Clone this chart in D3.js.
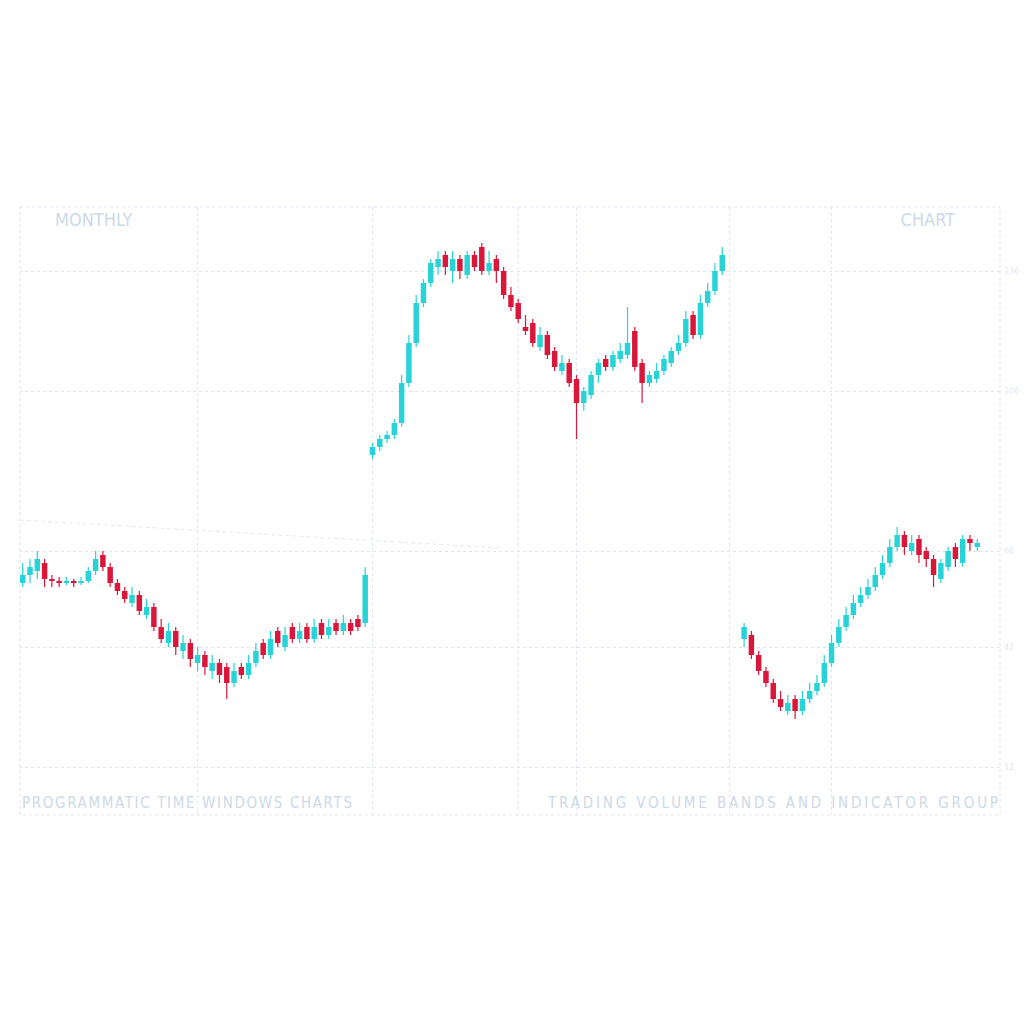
<!DOCTYPE html>
<html><head><meta charset="utf-8">
<script src="https://cdn.jsdelivr.net/npm/d3@7"></script>
<style>html,body{margin:0;padding:0;background:#fff;}svg{display:block;}</style>
</head><body>
<svg id="chart" width="1024" height="1024"></svg>
<script>
// ---- DATA ----
const titleLeft = "MONTHLY";
const titleRight = "CHART";
const footerLeft = "PROGRAMMATIC TIME WINDOWS CHARTS";
const footerRight = "TRADING VOLUME BANDS AND INDICATOR GROUP";
const totalSlots = 132;
const yTicks = [136, 106, 66, 42, 12];
const xGridSlots = [24, 48, 68, 76, 97, 111];
// segment start index + rows [open, high, low, close]
const seg1Start = 0;
const seg1 = [[58,63,57,60],[60,64,58,62],[61,66,59,64],[63,64,57,59],[59,60,57,58.5],[58.5,59.5,57,58],[58,59.5,57.5,58.5],[58.5,59,57,58],[58,59.5,57.5,58.5],[58.5,62,58,61],
[61,66,60,64],[65,66,61,62],[62,63,57,58],[58,59,55,56],[56,57,53,54],[53,57,52,55],[55,56,50,51],[50,54,49,52],[52,53,46,47],[47,49,43,44],
[43,48,42,46],[46,47,40,42],[41,45,39,43],[43,44,37,39],[38,42,36,40],[40,41,35,37],[36,40,34,38],[38,39,33,35],[37,38,29,33],[33,38,32,36],
[37,38,34,35],[35,40,34,38],[38,43,37,41],[43,44,39,40],[40,46,39,44],[46,47,42,43],[42,47,41,45],[47,48,43,44],[44,48,43,46],[47,48,43,44],
[44,49,43,47],[48,49,44,45],[45,49,44,47],[48,49,45,46],[46,50,45,48],[48,49,45,46],[49,50,46,47],[48,62,47,60]];
const seg2Start = 48;
const seg2 = [[90,93,89,92],[92,95,91,94],[94,96,93,95],[95,99,94,98],[98,110,97,108],[108,120,107,118],[118,130,117,128],[128,134,127,133],[133,139,132,138],[137,141,135,139],
[140,141,135,137],[136,141,133,139],[139,140,134,136],[135,141,134,140],[140,141,136,137],[142,143,135,136],[136,141,135,138],[139,140,133,136],[136,137,129,130],[130,132,126,127],
[128,129,123,124],[122,125,120,121],[123,124,117,118],[117,122,116,120],[120,121,114,115],[116,117,111,112],[111,115,110,113],[113,114,107,108],[109,110,94,103],[103,107,101,106],
[105,111,104,110],[110,114,108,113],[114,115,111,112],[112,116,111,115],[114,118,113,116],[115,127,114,118],[121,122,111,112],[113,114,103,108],[108,111,107,110],[109,113,108,111],
[111,115,110,114],[113,117,112,116],[116,120,115,118],[118,126,117,124],[125,126,119,120],[120,130,119,128],[128,133,127,131],[131,138,130,136],[136,142,135,140]];
const seg3Start = 99;
const seg3 = [[44,48,42,47],[45,46,39,40],[40,41,35,36],[36,37,32,33],[33,34,28,29],[29,31,26,27],[26,30,25,28],[29,30,24,26],[26,31,25,29],[29,33,28,31],
[31,35,30,33],[33,40,32,38],[38,45,37,43],[43,49,42,47],[47,52,46,50],[50,55,49,53],[53,57,52,55],[55,59,54,57],[57,62,56,60],[60,65,59,63],
[63,69,62,67],[67,72,66,70],[70,71,65,67],[66,70,65,68],[69,70,63,65],[66,67,62,64],[64,65,57,60],[59,64,58,63],[62,67,61,66],[67,68,62,64],
[63,70,62,69],[69,70,66,68],[67,69,66,68]];
const trendLine = [[0, 73.75], [66, 66.75]];

// ---- CHART ----
const svg = d3.select("#chart");
const L = 20, R = 1000, T = 207, B = 815;
const x = d3.scaleBand().domain(d3.range(totalSlots)).range([L, 980]).paddingInner(0.25);
const y = d3.scaleLinear().domain([0, 152]).range([B, T]);
const grid = "#dde5f0";

const candles = [];
[[seg1Start, seg1], [seg2Start, seg2], [seg3Start, seg3]].forEach(([s, rows]) => {
  rows.forEach((r, k) => candles.push({i: s + k, o: r[0], h: r[1], l: r[2], c: r[3]}));
});

// frame
svg.append("rect").attr("x", L).attr("y", T).attr("width", R - L).attr("height", B - T)
  .attr("fill", "none").attr("stroke", grid).attr("stroke-dasharray", "3,3");

// horizontal grid via axis
const yAxis = d3.axisRight(y).tickValues(yTicks).tickSize(-(R - L)).tickFormat(d3.format("d"));
const ya = svg.append("g").attr("transform", `translate(${R},0)`).call(yAxis);
ya.select(".domain").remove();
ya.selectAll(".tick line").attr("stroke", grid).attr("stroke-dasharray", "3,3");
ya.selectAll(".tick text").attr("fill", "#e3e9f1").attr("font-size", 8).attr("font-family", "DejaVu Sans").attr("x", 4);

// vertical grid
svg.append("g").selectAll("line").data(xGridSlots).join("line")
  .attr("x1", d => x(d) + x.bandwidth() / 2).attr("x2", d => x(d) + x.bandwidth() / 2)
  .attr("y1", T).attr("y2", B).attr("stroke", grid).attr("stroke-dasharray", "3,3");

// trend line
svg.append("line")
  .attr("x1", x(trendLine[0][0])).attr("y1", y(trendLine[0][1]))
  .attr("x2", x(trendLine[1][0])).attr("y2", y(trendLine[1][1]))
  .attr("stroke", "#e4eaf2").attr("stroke-dasharray", "4,3");

const up = "#27d3d6", down = "#d8173b";
const g = svg.append("g");
g.selectAll("line.wick").data(candles).join("line").attr("class", "wick")
  .attr("x1", d => x(d.i) + x.bandwidth() / 2).attr("x2", d => x(d.i) + x.bandwidth() / 2)
  .attr("y1", d => y(d.h)).attr("y2", d => y(d.l))
  .attr("stroke", d => d.c >= d.o ? up : down).attr("stroke-width", 1.2);
g.selectAll("rect.body").data(candles).join("rect").attr("class", "body")
  .attr("x", d => x(d.i)).attr("width", x.bandwidth())
  .attr("y", d => y(Math.max(d.o, d.c)))
  .attr("height", d => Math.max(1, Math.abs(y(d.o) - y(d.c))))
  .attr("fill", d => d.c >= d.o ? up : down);

// texts
const txt = "#cdd9e8";
const font = "'Liberation Sans Narrow', 'DejaVu Sans Condensed', sans-serif";
svg.append("text").attr("x", 55).attr("y", 226).text(titleLeft)
  .attr("fill", txt).attr("font-size", 18).attr("font-family", font);
svg.append("text").attr("x", 955).attr("y", 226).attr("text-anchor", "end").text(titleRight)
  .attr("fill", txt).attr("font-size", 18).attr("font-family", font);
svg.append("text").attr("x", 22).attr("y", 808).text(footerLeft)
  .attr("fill", txt).attr("font-size", 15).attr("font-family", font).attr("textLength", 330);
svg.append("text").attr("x", 548).attr("y", 808).text(footerRight)
  .attr("fill", txt).attr("font-size", 15).attr("font-family", font).attr("textLength", 450);
</script>
</body></html>
